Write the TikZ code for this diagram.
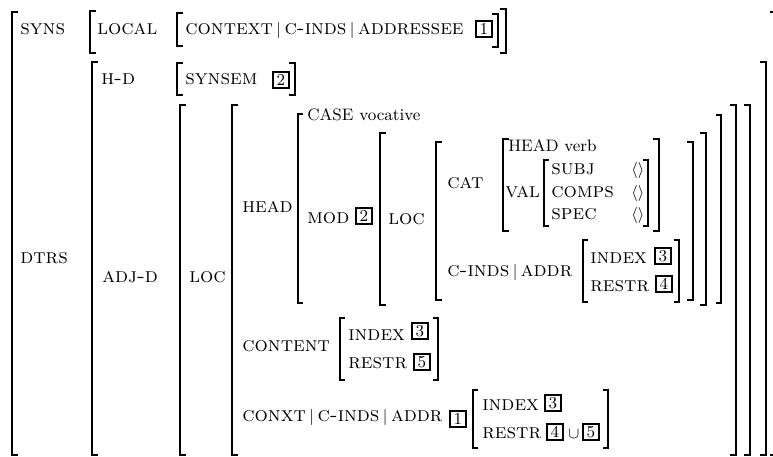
\documentclass[tikz,border=0pt]{standalone}
\usepackage{tikz}
\usetikzlibrary{positioning}

% square brackets of the matrix: x, top, bottom
\newcommand{\lbr}[4][6]{\draw[brk] (#2+#1,#3) -- (#2,#3) -- (#2,#4) -- (#2+#1,#4);}
\newcommand{\rbr}[4][6]{\draw[brk] (#2-#1,#3) -- (#2,#3) -- (#2,#4) -- (#2-#1,#4);}
% path separator between features
\newcommand{\pth}{\,{\fontsize{9.5}{11}\selectfont$|$}\,}

\begin{document}
\begin{tikzpicture} [
            x=0.56pt, y=-0.56pt,
            brk/.style={line width=0.8pt},
            feat/.style={anchor=base west, inner sep=0pt, font=\fontsize{11.7}{14}\selectfont\scshape},
            plain/.style={anchor=base west, inner sep=0pt, font=\fontsize{9.3}{11}\selectfont},
            tagbox/.style={draw, line width=1.1pt, inner sep=0pt, minimum width=9.2pt, minimum height=9.2pt, font=\fontsize{9.3}{11}\selectfont}]
\useasboundingbox (0,0) rectangle (773,457);

%outer
\lbr{12}{12}{455}
\rbr{776}{12}{455}

%SYNS
\node[feat] (syns) at (20,35) {syns};
\lbr{90}{11}{53}
\rbr{506}{9}{53}
\node[feat] (local) at (97,35) {local};
\lbr{177}{13}{46}
\rbr{498}{14}{47}
\node[feat] (context) at (185,35) {context\pth c-inds\pth addressee};
\node[tagbox] (t1a) at (484,29) {1};

%DTRS
\node[feat] (dtrs) at (20,264) {dtrs};
\lbr{92}{62}{455}
\rbr{766}{62}{455}

%H-D
\node[feat] (hd) at (101,85) {h-d};
\lbr{177}{63}{95}
\rbr{295}{63}{95}
\node[feat] (synsem) at (185,85) {synsem};
\node[tagbox] (t2a) at (281,80) {2};

%ADJ-D
\node[feat] (adjd) at (102,283) {adj-d};
\lbr{180}{105}{455}
\rbr{750}{105}{455}
\node[feat] (loca) at (189,283) {loc};
\lbr{232}{105}{455}
\rbr{736}{105}{455}

%HEAD
\node[feat] (head) at (242,213) {head};
\lbr[5]{298}{114}{303}
\rbr[5]{721}{115}{303}
\node[plain] (case) at (307,121) {CASE vocative};
\node[feat] (mod) at (307,224) {mod};
\node[tagbox] (t2b) at (364,216) {2};
\lbr{380}{133}{305}
\rbr{706}{133}{305}
\node[feat] (locb) at (388,225) {loc};
\lbr{436}{142}{300}
\rbr{693}{142}{300}

%CAT
\node[feat] (cat) at (447,189) {cat};
\lbr{503}{139}{231}
\rbr{659}{139}{231}
\node[plain] (headv) at (508,152) {HEAD verb};
\node[feat] (val) at (505,198) {val};
\lbr[5]{544}{160}{226}
\rbr[5]{648}{160}{226}
\node[feat] (subj) at (551,175) {subj};
\node[feat] (comps) at (551,198) {comps};
\node[feat] (spec) at (551,220) {spec};
\node[plain] (subjv) at (631,175) {$\langle\rangle$};
\node[plain] (compsv) at (631,198) {$\langle\rangle$};
\node[plain] (specv) at (631,220) {$\langle\rangle$};

%C-INDS
\node[feat] (cinds) at (447,277) {c-inds\pth addr};
\lbr[5]{583}{240}{302}
\rbr[5]{679}{240}{302}
\node[feat] (indexa) at (590,264) {index};
\node[tagbox] (t3a) at (663,256) {3};
\node[feat] (restra) at (590,292) {restr};
\node[tagbox] (t4a) at (664,284) {4};

%CONTENT
\node[feat] (content) at (242,352) {content};
\lbr[5]{340}{318}{380}
\rbr[5]{438}{318}{380}
\node[feat] (indexb) at (348,341) {index};
\node[tagbox] (t3b) at (420,331) {3};
\node[feat] (restrb) at (348,368) {restr};
\node[tagbox] (t5a) at (422,362) {5};

%CONXT
\node[feat] (conxt) at (242,421) {conxt\pth c-inds\pth addr};
\node[tagbox] (t1b) at (458,419) {1};
\lbr[5]{473}{390}{448}
\rbr[5]{608}{390}{448}
\node[feat] (indexc) at (482,410) {index};
\node[tagbox] (t3c) at (553,403) {3};
\node[feat] (restrc) at (482,438) {restr};
\node[tagbox] (t4b) at (555,432) {4};
\node[plain] (cup) at (568,438) {$\cup$};
\node[tagbox] (t5b) at (591,432) {5};

\end{tikzpicture}
\end{document}
